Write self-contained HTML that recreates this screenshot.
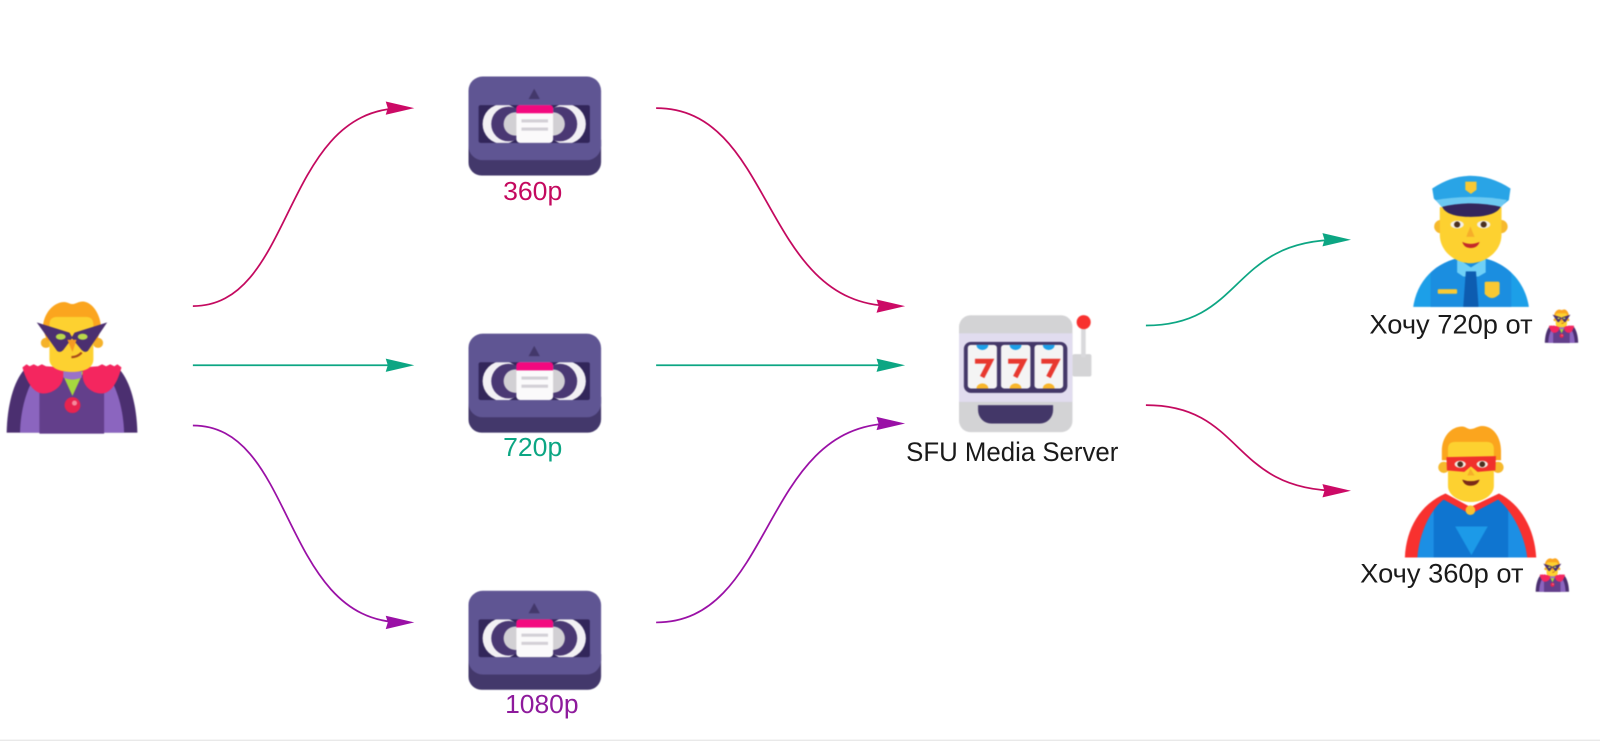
<!DOCTYPE html>
<html><head><meta charset="utf-8"><style>
html,body{margin:0;padding:0;background:#fff;width:1600px;height:741px;overflow:hidden}
svg{display:block}
text{font-family:"Liberation Sans","DejaVu Sans",sans-serif;font-size:25px}
.ic{filter:blur(.45px)}
</style></head><body>
<svg width="1600" height="741" viewBox="0 0 1568 726.2" xmlns="http://www.w3.org/2000/svg">
<defs>
<clipPath id="win"><rect x="10" y="28" width="109" height="37" rx="2"/></clipPath>
<clipPath id="pol"><path d="M1385 300.700C1389 272 1412 252 1441.500 251.700 1471 252 1494 272 1498.300 300.700Z"/></clipPath>
<clipPath id="sup"><path d="M1389 546.400C1391 522 1402 498 1417 488L1441 503 1466 488C1480 498 1494 522 1496.700 546.400Z"/></clipPath>
<g id="tape">
  <path d="M0 62H130V84a13 13 0 0 1-13 13H13a13 13 0 0 1-13-13Z" fill="#43386b"/>
  <path d="M14 0H116a14 14 0 0 1 14 14V68a14 14 0 0 1-14 14H14a14 14 0 0 1-14-14V14A14 14 0 0 1 14 0Z" fill="#5f5593"/>
  <rect x="10" y="28" width="109" height="37" rx="2" fill="#32265a"/>
  <g clip-path="url(#win)">
    <circle cx="33.500" cy="46.500" r="19.600" fill="#f2f0f4"/><circle cx="95.500" cy="46.500" r="19.600" fill="#f2f0f4"/>
    <circle cx="39.400" cy="46.500" r="17" fill="#4a3873"/><circle cx="89.600" cy="46.500" r="17" fill="#4a3873"/>
    <circle cx="46" cy="46.500" r="11.500" fill="#d2d0d4"/><circle cx="83" cy="46.500" r="11.500" fill="#d2d0d4"/>
  </g>
  <rect x="47" y="28" width="36" height="37" rx="3.500" fill="#fbfafb"/>
  <path d="M47 36V31a3 3 0 0 1 3-3H80a3 3 0 0 1 3 3V36Z" fill="#f3097f"/>
  <rect x="52" y="42" width="26" height="3" fill="#d3d0d6"/><rect x="52" y="50" width="26" height="3" fill="#d3d0d6"/>
  <path d="M64.500 12L70 22H59Z" fill="#43386b"/>
</g>
<g id="villain">
  <path d="M6.500 424C7 398 13 374 24 362H117C128 374 134 398 134.600 424Z" fill="#4b2f70"/>
  <path d="M19.600 424C20 402 26 380 36 366H105C115 380 121 402 121.600 424Z" fill="#8b65bf"/>
  <rect x="38.600" y="362" width="63.400" height="63" fill="#633f8b"/>
  <path d="M60 364H82L71 388Z" fill="#a6d83f"/>
  <path d="M62 364H80V370Q71 374 62 370Z" fill="#9a72c8"/>
  <path d="M22 360L26 357 29 359 33 357 37 359 41 357 45 359 62 360V368C62 378 52 386 42 385.600 32 385 25 372 22 360Z" fill="#f4265f"/>
  <path d="M119 360L115 357 112 359 108 357 104 359 100 357 96 359 81 360V368C81 378 90 386 100 385.600 110 385 116 372 119 360Z" fill="#f4265f"/>
  <circle cx="71" cy="397" r="7.800" fill="#e8234f"/><circle cx="73" cy="395" r="2.500" fill="#f58a9c"/>
  <circle cx="45" cy="336" r="5" fill="#f5b22a"/><circle cx="96" cy="336" r="5" fill="#f5b22a"/>
  <path d="M42 322C42 308 52 296 63 296 66 296 68 298 71 298 74 298 77 295.500 81 295.500 90 295.500 99 308 99 322L95 334H46Z" fill="#fba51e"/>
  <path d="M48.400 318Q48.400 310.500 56 310.500H84Q91.500 310.500 91.500 318V352C91.500 360 84 364.500 70.500 364.500 57 364.500 48.400 360 48.400 352Z" fill="#fdd130"/>
  <path d="M36 316L68 326 71 331 62 343Q59 346 56 344Z" fill="#4b2f70"/>
  <path d="M105 316L73 326 70 331 80 343Q83 346 86 344Z" fill="#4b2f70"/>
  <path d="M66 333H75L71 345Z" fill="#f59a22"/>
  <ellipse cx="59.500" cy="330" rx="4.800" ry="3" fill="#b9d84a"/><ellipse cx="81" cy="330" rx="4.800" ry="3" fill="#b9d84a"/>
  <path d="M70 350Q76 350 80 345.500" stroke="#a84a1a" stroke-width="2.200" fill="none"/>
</g>
<marker id="mp" markerUnits="userSpaceOnUse" markerWidth="30" markerHeight="16" refX="17" refY="8" orient="auto"><path d="M0 1.500L28 8 0 14.500 2 8Z" fill="#cc0a66"/></marker>
<marker id="mg" markerUnits="userSpaceOnUse" markerWidth="30" markerHeight="16" refX="17" refY="8" orient="auto"><path d="M0 1.500L28 8 0 14.500 2 8Z" fill="#0ca683"/></marker>
<marker id="mv" markerUnits="userSpaceOnUse" markerWidth="30" markerHeight="16" refX="17" refY="8" orient="auto"><path d="M0 1.500L28 8 0 14.500 2 8Z" fill="#9a10a6"/></marker>
</defs>

<rect x="0" y="0" width="1568" height="726.2" fill="#fff"/>
<rect x="0" y="724.800" width="1568" height="1.400" fill="#e9e9e9"/>

<g fill="none" stroke-width="1.700">
  <path d="M189 300C290 300 275 106 395 106" stroke="#c4095f" marker-end="url(#mp)"/>
  <path d="M189 358H395" stroke="#0ca683" marker-end="url(#mg)"/>
  <path d="M189 417C290 417 275 610 395 610" stroke="#9a10a6" marker-end="url(#mv)"/>
  <path d="M643 106C760 106 745 300 876 300" stroke="#c4095f" marker-end="url(#mp)"/>
  <path d="M643 358H876" stroke="#0ca683" marker-end="url(#mg)"/>
  <path d="M643 610C760 610 745 415 876 415" stroke="#9a10a6" marker-end="url(#mv)"/>
  <path d="M1123 319C1220 319 1205 235 1313 235" stroke="#0ca683" marker-end="url(#mg)"/>
  <path d="M1123 397C1220 397 1205 481 1313 481" stroke="#c4095f" marker-end="url(#mp)"/>
</g>

<g class="ic">
<use href="#villain"/>
<use href="#tape" x="459" y="75"/>
<use href="#tape" x="459" y="327"/>
<use href="#tape" x="459" y="579"/>

<!-- slot machine -->
<rect x="1051" y="347" width="18.600" height="22" rx="2" fill="#d4d4d6"/>
<rect x="1059.500" y="318" width="4.500" height="32" fill="#d9d9dc"/>
<circle cx="1062" cy="315.700" r="6.900" fill="#f8312f"/>
<rect x="940" y="309" width="111" height="114.500" rx="11" fill="#d3d3d5"/>
<rect x="940" y="326.600" width="111" height="67.200" fill="#e1dcef"/>
<rect x="944.600" y="335" width="101.400" height="50" rx="7" fill="#433768"/>
<rect x="948.400" y="338" width="28.600" height="42.700" rx="3" fill="#f4f4f4"/>
<rect x="981" y="338" width="28.800" height="42.700" rx="3" fill="#f4f4f4"/>
<rect x="1013.800" y="338" width="28.100" height="42.700" rx="3" fill="#f4f4f4"/>
<path d="M957 338H968.500A5.750 5 0 0 1 957 338Z" fill="#1c9fe8"/><path d="M989.500 338H1001A5.750 5 0 0 1 989.500 338Z" fill="#1c9fe8"/><path d="M1022 338H1033.500A5.750 5 0 0 1 1022 338Z" fill="#1c9fe8"/>
<path d="M957 380.700H968.500A5.750 5 0 0 0 957 380.700Z" fill="#f9b62a"/><path d="M989.500 380.700H1001A5.750 5 0 0 0 989.500 380.700Z" fill="#f9b62a"/><path d="M1022 380.700H1033.500A5.750 5 0 0 0 1022 380.700Z" fill="#f9b62a"/>
<g fill="none" stroke="#e8382f" stroke-width="4.800">
  <path d="M955.500 354H970.500L962.500 369.500"/><path d="M988 354H1003L995 369.500"/><path d="M1020.500 354H1035.500L1027.500 369.500"/>
</g>
<path d="M958.500 397H1032V402A13 13 0 0 1 1019 415H971.500A13 13 0 0 1 958.500 402Z" fill="#433768"/>

<!-- police -->
<path d="M1385 300.700C1389 272 1412 252 1441.500 251.700 1471 252 1494 272 1498.300 300.700Z" fill="#1c9fe8"/>
<g clip-path="url(#pol)"><rect x="1402" y="250" width="79" height="52" fill="#1b8ee0"/></g>
<path d="M1428 253L1441.500 262 1456 253 1456 267 1449 271H1434L1428 267Z" fill="#6fd0f7"/>
<path d="M1436.500 266H1446.500L1449 300.700H1434Z" fill="#0d5cb0"/>
<rect x="1409" y="283.400" width="19" height="4.500" rx="1" fill="#f9c933"/>
<path d="M1455 277Q1455 276 1457 276H1468Q1469.600 276 1469.600 278V288Q1462 296 1455 288Z" fill="#f9c933"/>
<circle cx="1412" cy="222" r="6.500" fill="#f6b92c"/><circle cx="1471" cy="222" r="6.500" fill="#f6b92c"/>
<path d="M1411 203H1471.500V230C1471.500 247 1455 258 1441 258 1427 258 1411 247 1411 230Z" fill="#fdd130"/>
<path d="M1403.600 184.700Q1422 172.300 1441 172.300 1461 172.300 1480.300 184.700L1478.700 196 1470.600 202.600H1413.400L1405.200 194.500Z" fill="#29a4e6"/>
<path d="M1407 196Q1441 190 1477 196L1471 203H1413Z" fill="#6cc9f2"/>
<path d="M1413.400 202.600Q1441 196 1470.600 202.600C1468 209 1456 212.500 1441 212.500 1426 212.500 1416 209 1413.400 202.600Z" fill="#33265c"/>
<path d="M1436 178H1447V186L1441.500 190 1436 186Z" fill="#f9c933"/>
<ellipse cx="1428" cy="220" rx="6.500" ry="3.800" fill="#f4f0e8"/><ellipse cx="1454" cy="220" rx="6.500" ry="3.800" fill="#f4f0e8"/>
<circle cx="1428" cy="220" r="3" fill="#4a3020"/><circle cx="1454" cy="220" r="3" fill="#4a3020"/>
<path d="M1441 222L1437 232H1445Z" fill="#f6ae2a"/>
<path d="M1433 237Q1441 241 1450 237Q1448 243 1441 243 1435 243 1433 237Z" fill="#c4282a"/>
<use href="#villain" transform="translate(1512.300 227.800) scale(.255)"/>

<!-- superhero -->
<path d="M1376.800 546.400C1378 518 1392 494 1416.600 483.700L1441 497 1469 483.700C1490 494 1504 518 1505.500 546.400Z" fill="#f8312f"/>
<path d="M1389 546.400C1391 522 1402 498 1417 488L1441 503 1466 488C1480 498 1494 522 1496.700 546.400Z" fill="#1c8fe4"/>
<g clip-path="url(#sup)"><rect x="1405" y="488" width="73" height="60" fill="#0f75d0"/></g>
<path d="M1426 516H1458L1442 544Z" fill="#1c9ae8"/>
<circle cx="1415" cy="458" r="5.500" fill="#f6b92c"/><circle cx="1468" cy="458" r="5.500" fill="#f6b92c"/>
<path d="M1413 442C1413 428 1422 418 1433 418 1436 418 1438 420.500 1441 420.500 1445 420.500 1448 417.500 1452.600 417.500 1463 417.500 1471 428 1471 442V451H1413Z" fill="#fba51e"/>
<path d="M1419 440Q1419 433 1426 433H1457Q1464 433 1464 440V476C1464 486 1452 492 1441.500 492 1431 492 1419 486 1419 476Z" fill="#fdd130"/>
<path d="M1416.600 484L1441 497 1469 484 1471 488 1441 504 1412 488Z" fill="#f8312f"/>
<circle cx="1441" cy="500" r="4.700" fill="#fbc12e"/>
<path d="M1417.500 448L1466 447 1465.500 461 1448 462.500 1441.500 457 1435 462.500 1418 461Z" fill="#f0302c"/>
<ellipse cx="1431" cy="455" rx="5.500" ry="3.500" fill="#f4ece4"/><ellipse cx="1452.600" cy="455" rx="5.500" ry="3.500" fill="#f4ece4"/>
<circle cx="1431" cy="455" r="2.800" fill="#4a3020"/><circle cx="1452.600" cy="455" r="2.800" fill="#4a3020"/>
<path d="M1441 459L1438 466H1445Z" fill="#f6ae2a"/>
<path d="M1433 470Q1441 473 1450 470Q1448 476 1441 476 1435 476 1433 470Z" fill="#7a2a18"/>
<use href="#villain" transform="translate(1503.300 471.800) scale(.255)"/>
</g>

<text x="493" y="196" fill="#c4095f" textLength="58" lengthAdjust="spacingAndGlyphs">360p</text>
<text x="493" y="447" fill="#0ca683" textLength="58" lengthAdjust="spacingAndGlyphs">720p</text>
<text x="495" y="699" fill="#8e1a9c" textLength="72" lengthAdjust="spacingAndGlyphs">1080p</text>
<text x="888" y="452" fill="#1a1a1a" style="font-size:26px" textLength="208" lengthAdjust="spacingAndGlyphs">SFU Media Server</text>
<text x="1342" y="327" fill="#1a1a1a" style="font-size:26px" textLength="160" lengthAdjust="spacingAndGlyphs">Хочу 720р от</text>
<text x="1333" y="571" fill="#1a1a1a" style="font-size:26px" textLength="160" lengthAdjust="spacingAndGlyphs">Хочу 360р от</text>
</svg>
</body></html>
